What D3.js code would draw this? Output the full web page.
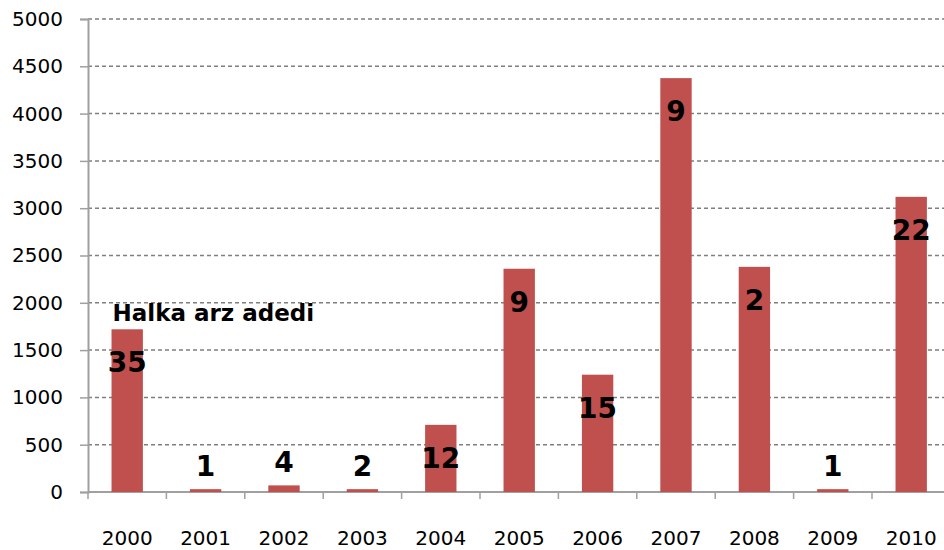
<!DOCTYPE html>
<html>
<head>
    <meta charset="UTF-8">
    <script src="https://d3js.org/d3.v7.min.js"></script>
    <style type="text/css">
        body { margin: 0; background: #fff; }
        text { font-family: "DejaVu Sans", Verdana, sans-serif; }
    </style>
</head>
<body>
    <script type="text/javascript">
        // Chart data
        var years = ["2000", "2001", "2002", "2003", "2004", "2005", "2006", "2007", "2008", "2009", "2010"];
        var amounts = [1720, 30, 70, 30, 710, 2360, 1240, 4375, 2380, 30, 3120];
        var ipoCounts = [35, 1, 4, 2, 12, 9, 15, 9, 2, 1, 22];
        var yTicks = [0, 500, 1000, 1500, 2000, 2500, 3000, 3500, 4000, 4500, 5000];
        var seriesLabel = "Halka arz adedi";

        var width = 944, height = 550;
        var plotLeft = 88, plotTop = 19, plotBottom = 492;
        var step = 78.4;

        var svg = d3.select("body").append("svg")
            .attr("width", width)
            .attr("height", height);

        // Scales
        var x = d3.scaleBand()
            .domain(years)
            .range([plotLeft, plotLeft + step * years.length])
            .padding(0);
        var y = d3.scaleLinear().domain([0, 5000]).range([plotBottom, plotTop]);

        // Gridlines (dashed)
        svg.append("g")
            .selectAll("line")
            .data(yTicks.filter(function (d) { return d > 0; }))
            .enter().append("line")
            .attr("x1", plotLeft)
            .attr("x2", width)
            .attr("y1", function (d) { return y(d); })
            .attr("y2", function (d) { return y(d); })
            .attr("stroke", "#7f7f7f")
            .attr("stroke-width", 1.5)
            .attr("stroke-dasharray", "4,3");

        // Y axis
        var yAxis = d3.axisLeft(y).tickValues(yTicks).tickFormat(d3.format("d"))
            .tickSize(8).tickPadding(17);
        var gy = svg.append("g")
            .attr("transform", "translate(" + plotLeft + ",0)")
            .call(yAxis);
        gy.select(".domain").attr("stroke", "#a0a0a0").attr("stroke-width", 2);
        gy.selectAll(".tick line").attr("stroke", "#a0a0a0").attr("stroke-width", 1.5);
        gy.selectAll(".tick text")
            .style("font-size", "20px")
            .style("font-family", "DejaVu Sans")
            .attr("fill", "#000");

        // X axis: ticks at category boundaries
        svg.append("line")
            .attr("x1", plotLeft).attr("x2", width)
            .attr("y1", plotBottom).attr("y2", plotBottom)
            .attr("stroke", "#a0a0a0").attr("stroke-width", 2);
        svg.append("g")
            .selectAll("line")
            .data(years)
            .enter().append("line")
            .attr("x1", function (d) { return x(d); })
            .attr("x2", function (d) { return x(d); })
            .attr("y1", plotBottom)
            .attr("y2", plotBottom + 7)
            .attr("stroke", "#a0a0a0")
            .attr("stroke-width", 1.5);
        svg.append("g")
            .selectAll("text")
            .data(years)
            .enter().append("text")
            .attr("x", function (d) { return x(d) + x.bandwidth() / 2; })
            .attr("y", 545)
            .attr("text-anchor", "middle")
            .style("font-size", "20px")
            .text(function (d) { return d; });

        // Bars
        var barW = x.bandwidth() * 0.4;
        svg.append("g")
            .selectAll("rect")
            .data(amounts)
            .enter().append("rect")
            .attr("x", function (d, i) { return x(years[i]) + (x.bandwidth() - barW) / 2; })
            .attr("y", function (d) { return y(d); })
            .attr("width", barW)
            .attr("height", function (d) { return plotBottom - y(d); })
            .attr("fill", "#c0504d");

        // Count labels
        svg.append("g")
            .selectAll("text")
            .data(ipoCounts)
            .enter().append("text")
            .attr("x", function (d, i) { return x(years[i]) + x.bandwidth() / 2; })
            .attr("y", function (d, i) {
                var t = y(amounts[i]);
                return plotBottom - t > 60 ? t + 43 : t - 13;
            })
            .attr("text-anchor", "middle")
            .style("font-size", "28px")
            .style("font-weight", "bold")
            .text(function (d) { return d; });

        // Series name label above the first bar
        svg.append("text")
            .attr("x", x(years[0]) + (x.bandwidth() - barW) / 2 + 1)
            .attr("y", 321)
            .style("font-size", "23px")
            .style("font-weight", "bold")
            .text(seriesLabel);
    </script>
</body>
</html>
